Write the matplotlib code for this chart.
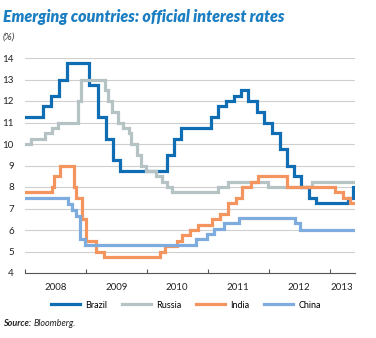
import pandas as pd
import matplotlib
matplotlib.use('Agg')
import matplotlib.pyplot as plt
import matplotlib.dates as mdates

# policy rate changes (date, %), held until the next change
brazil_dates = ['2008-01-01', '2008-04-16', '2008-06-04', '2008-07-23', '2008-09-10',
                '2009-01-21', '2009-03-11', '2009-04-29', '2009-06-10', '2009-07-22',
                '2010-04-28', '2010-06-09', '2010-07-21', '2011-01-19', '2011-03-02',
                '2011-04-20', '2011-06-08', '2011-07-20', '2011-08-31', '2011-10-19',
                '2011-11-30', '2012-01-18', '2012-03-07', '2012-04-18', '2012-05-30',
                '2012-07-11', '2012-08-29', '2012-10-10', '2013-04-17', '2013-05-20']
brazil_rates = [11.25, 11.75, 12.25, 13.0, 13.75,
                12.75, 11.25, 10.25, 9.25, 8.75,
                9.5, 10.25, 10.75, 11.25, 11.75,
                12.0, 12.25, 12.5, 12.0, 11.5,
                11.0, 10.5, 9.75, 9.0, 8.5,
                8.0, 7.5, 7.25, 7.5, 8.0]

russia_dates = ['2008-01-01', '2008-02-04', '2008-04-29', '2008-06-10', '2008-07-14',
                '2008-11-12', '2008-12-01', '2009-04-24', '2009-05-13', '2009-06-05',
                '2009-07-13', '2009-08-10', '2009-09-15', '2009-09-30', '2009-10-30',
                '2009-11-25', '2009-12-28', '2010-02-24', '2010-03-29', '2010-04-30',
                '2010-06-01', '2011-02-28', '2011-05-03', '2011-12-26', '2012-09-14']
russia_rates = [10.0, 10.25, 10.5, 10.75, 11.0,
                12.0, 13.0, 12.5, 12.0, 11.5,
                11.0, 10.75, 10.5, 10.0, 9.5,
                9.0, 8.75, 8.5, 8.25, 8.0,
                7.75, 8.0, 8.25, 8.0, 8.25]

india_dates = ['2008-01-01', '2008-06-11', '2008-06-24', '2008-07-29', '2008-10-20',
               '2008-11-03', '2008-12-08', '2009-01-02', '2009-03-04', '2009-04-21',
               '2010-03-19', '2010-04-20', '2010-07-02', '2010-07-27', '2010-09-16',
               '2010-11-02', '2011-01-25', '2011-03-17', '2011-05-03', '2011-06-16',
               '2011-07-26', '2011-09-16', '2011-10-25', '2012-04-17', '2013-01-29',
               '2013-03-19', '2013-05-03']
india_rates = [7.75, 8.0, 8.5, 9.0, 8.0,
               7.5, 6.5, 5.5, 5.0, 4.75,
               5.0, 5.25, 5.5, 5.75, 6.0,
               6.25, 6.5, 6.75, 7.25, 7.5,
               8.0, 8.25, 8.5, 8.0, 7.75,
               7.5, 7.25]

china_dates = ['2008-01-01', '2008-09-16', '2008-10-09', '2008-10-30', '2008-11-27',
               '2008-12-23', '2010-10-20', '2010-12-26', '2011-02-09', '2011-04-06',
               '2011-07-07', '2012-06-08', '2012-07-06']
china_rates = [7.47, 7.20, 6.93, 6.66, 5.58,
               5.31, 5.56, 5.81, 6.06, 6.31,
               6.56, 6.31, 6.00]

end_date = '2013-05-31'
years = [2008, 2009, 2010, 2011, 2012, 2013]

series = [('Brazil', brazil_dates, brazil_rates, '#0f6db4'),
          ('Russia', russia_dates, russia_rates, '#b6c3c5'),
          ('India', india_dates, india_rates, '#f4955f'),
          ('China', china_dates, china_rates, '#7eacdf')]

plt.rcParams['font.family'] = ['Lato', 'DejaVu Sans']

fig = plt.figure(figsize=(3.76, 3.38), dpi=100)
ax = fig.add_axes([25 / 376, 65 / 338, 330 / 376, 215 / 338])

for name, d, r, c in series:
    x = pd.to_datetime(d + [end_date])
    y = r + [r[-1]]
    ax.step(x, y, where='post', color=c, lw=2.3, label=name, solid_joinstyle='miter')

ax.set_xlim(pd.Timestamp('2008-01-01'), pd.Timestamp(end_date))
ax.set_ylim(4, 14)
ax.set_yticks(range(4, 15))
for v in range(5, 15):
    ax.axhline(v, color='#cfcfcf', lw=0.8, zorder=0)

ax.xaxis.set_major_locator(mdates.YearLocator())
ax.xaxis.set_major_formatter(plt.NullFormatter())
ax.set_xticks([pd.Timestamp(f'{yr}-07-01') for yr in years[:-1]] + [pd.Timestamp('2013-03-15')],
              minor=True)
ax.set_xticklabels([str(yr) for yr in years], minor=True)
ax.tick_params(axis='x', which='major', direction='in', length=3, color='#555555', width=0.8)
ax.tick_params(axis='x', which='minor', length=0, labelsize=7, pad=7, labelcolor='#222222')
ax.tick_params(axis='y', length=0, labelsize=7, pad=8, labelcolor='#222222')

for s in ['top', 'right', 'left']:
    ax.spines[s].set_visible(False)
ax.spines['bottom'].set_color('#555555')
ax.spines['bottom'].set_linewidth(0.8)

fig.text(3 / 376, 1 - 17 / 338, 'Emerging countries: official interest rates',
         fontsize=11.5, fontweight='heavy', fontstyle='italic', color='#1b7ec2', va='center')
fig.text(3 / 376, 1 - 37 / 338, '(%)', fontsize=7, fontstyle='italic', color='#333333', va='center')

fig.legend(loc='center', bbox_to_anchor=(186 / 376, 1 - 305 / 338), ncol=4, frameon=False,
           fontsize=6.5, handlelength=3.2, handletextpad=0.6, columnspacing=1.6)

src = fig.text(3 / 376, 1 - 323 / 338, 'Source:', fontsize=6.5, fontweight='bold',
               fontstyle='italic', color='#222222', va='center')
fig.text(34 / 376, 1 - 323 / 338, 'Bloomberg.', fontsize=6.5, fontstyle='italic',
         color='#222222', va='center')

fig.savefig('out.png', dpi=100)
